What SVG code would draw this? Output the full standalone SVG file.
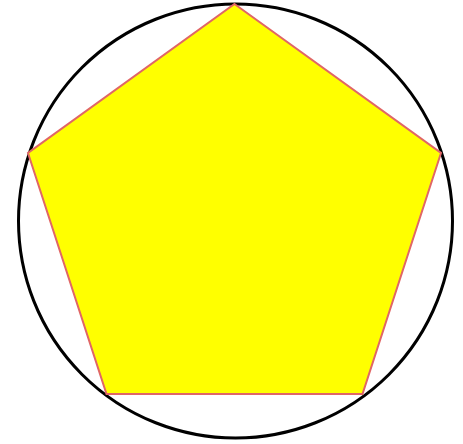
<svg xmlns="http://www.w3.org/2000/svg" width="463" height="444" viewBox="0 0 463 444">
<style>
.c{fill:none;stroke:#000;stroke-width:3}
.p{fill:#ffff00;stroke:#e06666;stroke-width:2;stroke-linejoin:miter}
</style>
<rect width="463" height="444" fill="#fff"/>
<g id="circle"><circle class="c" cx="235.5" cy="221" r="217"/></g>
<g id="pentagon"><polygon class="p" points="234.5,4 441,153 362.5,394 106.5,394 28,153"/></g>
<g id="connectors"></g>
</svg>
